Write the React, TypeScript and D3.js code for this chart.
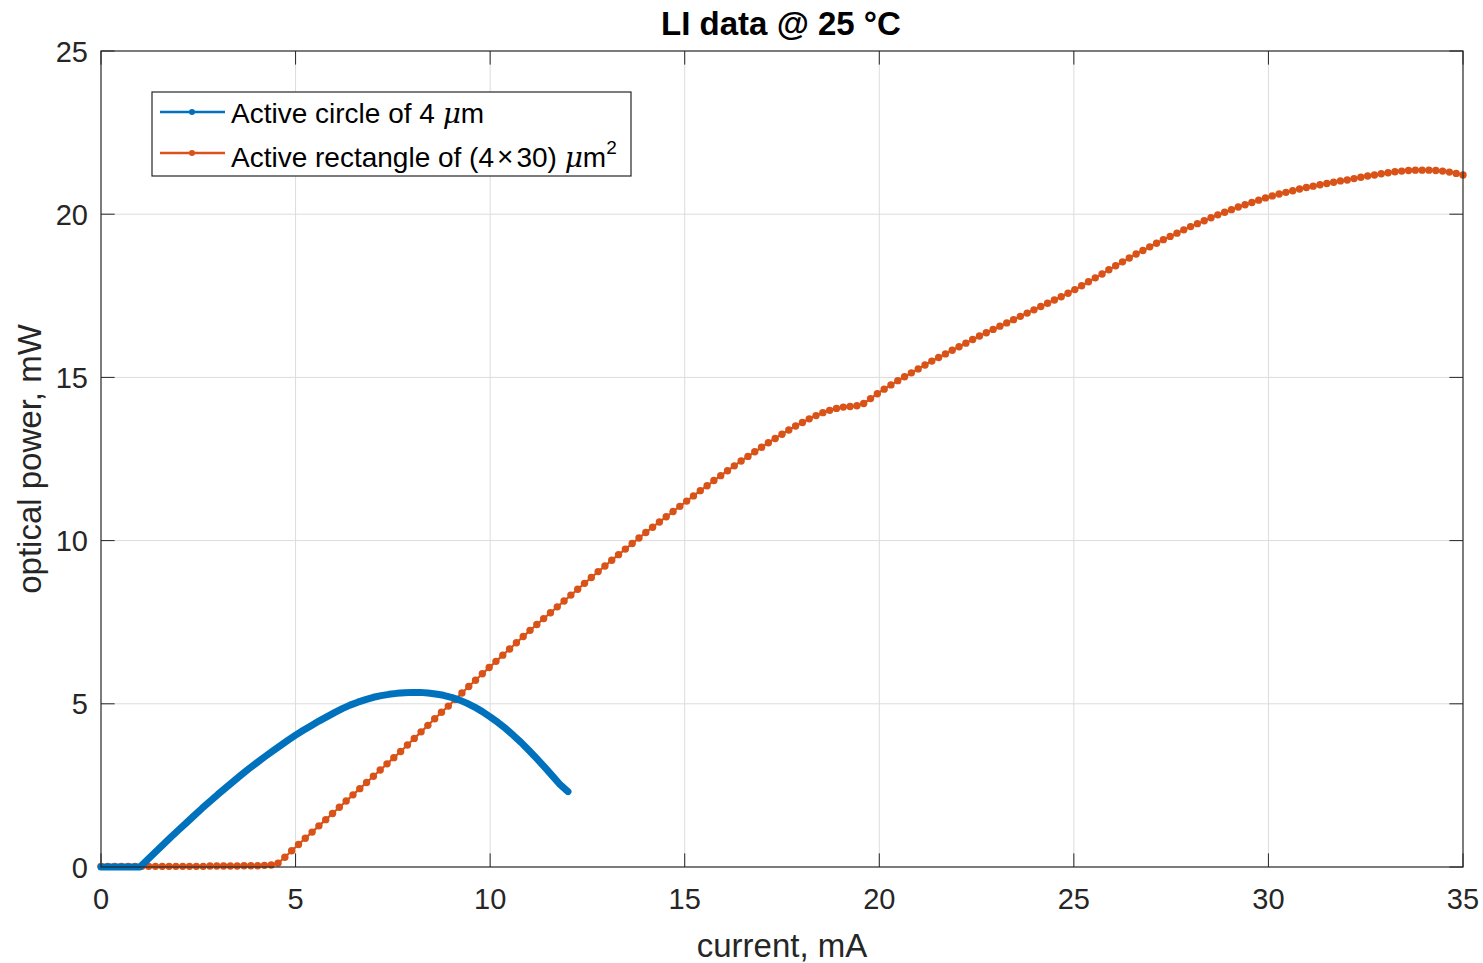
import React from "react";
import * as d3 from "d3";

const xTicks = [0, 5, 10, 15, 20, 25, 30, 35];
const yTicks = [0, 5, 10, 15, 20, 25];

const circleStep = 0.2;
const circlePower = [
  0, 0, 0, 0, 0, 0, 0.23, 0.46, 0.69, 0.92, 1.14, 1.36, 1.58, 1.8, 2.01, 2.22, 2.42, 2.62, 2.82, 3.01,
  3.19, 3.37, 3.54, 3.71, 3.88, 4.04, 4.19, 4.33, 4.47, 4.6, 4.73, 4.85, 4.96, 5.05, 5.13, 5.2, 5.25,
  5.29, 5.32, 5.34, 5.35, 5.35, 5.33, 5.3, 5.26, 5.2, 5.12, 5.02, 4.9, 4.76, 4.6, 4.43, 4.24, 4.03,
  3.81, 3.57, 3.32, 3.06, 2.79, 2.52, 2.31,
];

const rectStep = 0.175;
const rectPower = [
  0.02, 0.02, 0.02, 0.02, 0.02, 0.02, 0.02, 0.02, 0.02, 0.02, 0.02, 0.02, 0.02, 0.02, 0.02, 0.02, 0.03,
  0.03, 0.03, 0.03, 0.03, 0.04, 0.04, 0.04, 0.05, 0.06, 0.12, 0.3, 0.5, 0.69, 0.88, 1.07, 1.26, 1.45,
  1.64, 1.83, 2.02, 2.21, 2.4, 2.59, 2.78, 2.97, 3.16, 3.35, 3.54, 3.74, 3.94, 4.14, 4.34, 4.54, 4.74,
  4.93, 5.13, 5.33, 5.53, 5.72, 5.92, 6.11, 6.3, 6.49, 6.68, 6.87, 7.06, 7.25, 7.43, 7.61, 7.79, 7.97,
  8.15, 8.33, 8.51, 8.69, 8.87, 9.05, 9.22, 9.4, 9.57, 9.74, 9.91, 10.08, 10.25, 10.41, 10.57, 10.73,
  10.89, 11.05, 11.21, 11.37, 11.53, 11.68, 11.84, 11.99, 12.14, 12.29, 12.44, 12.58, 12.72, 12.86,
  13.0, 13.13, 13.26, 13.39, 13.51, 13.62, 13.73, 13.83, 13.92, 13.99, 14.05, 14.09, 14.11, 14.13,
  14.2, 14.35, 14.5, 14.64, 14.77, 14.9, 15.02, 15.14, 15.26, 15.38, 15.5, 15.61, 15.72, 15.83, 15.94,
  16.05, 16.16, 16.27, 16.37, 16.47, 16.57, 16.67, 16.77, 16.87, 16.97, 17.07, 17.17, 17.27, 17.37,
  17.47, 17.58, 17.69, 17.81, 17.93, 18.05, 18.17, 18.3, 18.42, 18.54, 18.66, 18.78, 18.89, 19.0,
  19.11, 19.22, 19.32, 19.42, 19.52, 19.62, 19.71, 19.8, 19.89, 19.98, 20.06, 20.14, 20.22, 20.29,
  20.36, 20.43, 20.5, 20.56, 20.62, 20.67, 20.72, 20.77, 20.82, 20.86, 20.9, 20.94, 20.98, 21.02,
  21.05, 21.09, 21.13, 21.17, 21.2, 21.24, 21.27, 21.3, 21.32, 21.34, 21.35, 21.35, 21.35, 21.34,
  21.32, 21.29, 21.25, 21.2,
];

const BLUE = "#0072BD";
const ORANGE = "#D95319";
const INK = "#262626";
const FONT = "'Liberation Sans', Arial, Helvetica, sans-serif";

export default function App() {
  const W = 1483, H = 963;
  const L = 101, R = 1463, T = 51, B = 867;
  const x = d3.scaleLinear().domain([0, 35]).range([L, R]);
  const y = d3.scaleLinear().domain([0, 25]).range([B, T]);

  const circle = circlePower.map((v, i) => [i * circleStep, v] as [number, number]);
  const rect = rectPower.map((v, i) => [i * rectStep, v] as [number, number]);
  const line = d3.line<[number, number]>().x((d) => x(d[0])).y((d) => y(d[1]));
  const tl = 13.6;

  return (
    <svg width={W} height={H} style={{ position: "absolute", left: 0, top: 0, background: "#fff" }} fontFamily={FONT}>
      <rect x={0} y={0} width={W} height={H} fill="#fff" />
      {/* grid */}
      {xTicks.slice(1, -1).map((t) => (
        <line key={"gx" + t} x1={x(t)} x2={x(t)} y1={T} y2={B} stroke="#dcdcdc" strokeWidth={1} />
      ))}
      {yTicks.slice(1, -1).map((t) => (
        <line key={"gy" + t} x1={L} x2={R} y1={y(t)} y2={y(t)} stroke="#dcdcdc" strokeWidth={1} />
      ))}
      {/* ticks */}
      {xTicks.map((t) => (
        <g key={"tx" + t}>
          <line x1={x(t)} x2={x(t)} y1={B} y2={B - tl} stroke={INK} strokeWidth={1} />
          <line x1={x(t)} x2={x(t)} y1={T} y2={T + tl} stroke={INK} strokeWidth={1} />
          <text x={x(t)} y={909} textAnchor="middle" fontSize={29} fill={INK}>{t}</text>
        </g>
      ))}
      {yTicks.map((t) => (
        <g key={"ty" + t}>
          <line x1={L} x2={L + tl} y1={y(t)} y2={y(t)} stroke={INK} strokeWidth={1} />
          <line x1={R} x2={R - tl} y1={y(t)} y2={y(t)} stroke={INK} strokeWidth={1} />
          <text x={88} y={y(t) + 10.5} textAnchor="end" fontSize={29} fill={INK}>{t}</text>
        </g>
      ))}
      {/* data */}
      <g>
        <path d={line(rect) || ""} fill="none" stroke={ORANGE} strokeWidth={2.2} />
        {rect.map((d, i) => (
          <circle key={"r" + i} cx={x(d[0])} cy={y(d[1])} r={3.7} fill={ORANGE} />
        ))}
        <path d={line(circle) || ""} fill="none" stroke={BLUE} strokeWidth={7} strokeLinejoin="round" strokeLinecap="round" />
      </g>
      {/* box */}
      <rect x={L} y={T} width={R - L} height={B - T} fill="none" stroke={INK} strokeWidth={1.2} />
      {/* labels */}
      <text x={781} y={35} textAnchor="middle" fontSize={33} fontWeight="bold" fill="#000">LI data @ 25 °C</text>
      <text x={782} y={957} textAnchor="middle" fontSize={33} fill={INK}>current, mA</text>
      <text transform="translate(41,459) rotate(-90)" textAnchor="middle" fontSize={33} fill={INK}>optical power, mW</text>
      {/* legend */}
      <g>
        <rect x={152} y={92} width={479} height={84} fill="#fff" stroke={INK} strokeWidth={1.2} />
        <line x1={160} x2={225} y1={112} y2={112} stroke={BLUE} strokeWidth={2.5} />
        <circle cx={192} cy={112} r={3} fill={BLUE} />
        <text x={231} y={123} fontSize={28} fill="#000">
          Active circle of 4 <tspan fontStyle="italic" fontFamily="'DejaVu Serif', serif">μ</tspan>m
        </text>
        <line x1={160} x2={225} y1={153} y2={153} stroke={ORANGE} strokeWidth={2.5} />
        <circle cx={192} cy={153} r={3} fill={ORANGE} />
        <text x={231} y={167} fontSize={28} fill="#000">
          Active rectangle of (4<tspan dx={3} dy={-1}>×</tspan><tspan dx={3} dy={1}>30) </tspan>
          <tspan fontStyle="italic" fontFamily="'DejaVu Serif', serif">μ</tspan>m<tspan dy={-13} fontSize={19}>2</tspan>
        </text>
      </g>
    </svg>
  );
}
